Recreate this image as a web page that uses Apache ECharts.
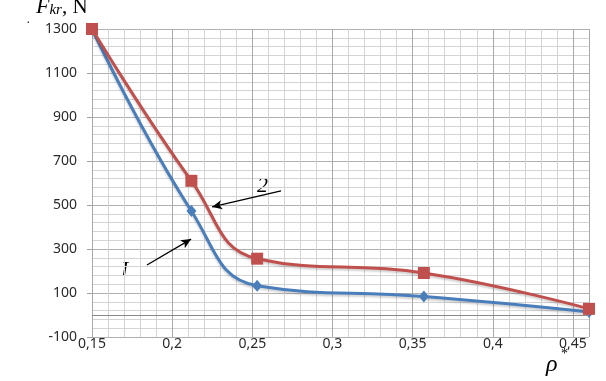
<!DOCTYPE html>
<html>
<head>
<meta charset="utf-8">
<script src="https://cdn.jsdelivr.net/npm/echarts@6/dist/echarts.min.js"></script>
<style>
html,body{margin:0;padding:0;background:#fff;}
#c{width:606px;height:381px;}
</style>
</head>
<body>
<div id="c"></div>
<script>
// Data
const rho = [0.15, 0.212, 0.253, 0.357, 0.46];
const curve1 = [1300, 473, 133, 84, 14];   // line 1 (blue, diamonds)
const curve2 = [1300, 610, 256, 191, 28];  // line 2 (red, squares)
const yTicks = [-100, 100, 300, 500, 700, 900, 1100, 1300];
const xTicks = [0.15, 0.2, 0.25, 0.3, 0.35, 0.4, 0.45];
// annotation arrows in data coordinates [x, y]
const arrow1 = [[0.1843, 227], [0.2118, 345]];
const arrow2 = [[0.2679, 564], [0.2249, 491]];

const pts1 = rho.map((x, i) => [x, curve1[i]]);
const pts2 = rho.map((x, i) => [x, curve2[i]]);

const chart = echarts.init(document.getElementById('c'), null, {renderer: 'canvas'});
const labelFont = '"Noto Sans", sans-serif';

const option = {
  animation: false,
  backgroundColor: '#ffffff',
  grid: {left: 92, right: 17, top: 29, bottom: 44, containLabel: false},
  xAxis: [
    {
      type: 'value', min: 0.15, max: 0.46, interval: 0.05, z: 1,
      axisLine: {show: false}, axisTick: {show: false},
      splitLine: {show: true, lineStyle: {color: '#a9a9a9', width: 1}},
      axisLabel: {
        margin: 0, color: '#2a2a2a', fontSize: 14, fontFamily: labelFont,
        formatter: function (v) {
          const r = Math.round(v * 100) / 100;
          if (!xTicks.some(t => Math.abs(t - r) < 1e-6)) return '';
          return String(r).replace('.', ',');
        }
      }
    },
    {
      type: 'value', min: 0.15, max: 0.46, interval: 0.01, z: 0, position: 'bottom',
      axisLine: {show: false}, axisTick: {show: false}, axisLabel: {show: false},
      splitLine: {show: true, lineStyle: {color: '#d3d3d3', width: 1}}
    }
  ],
  yAxis: {
    type: 'value', min: yTicks[0], max: yTicks[yTicks.length - 1], interval: 200,
    axisLine: {show: true, lineStyle: {color: '#a0a0a0'}},
    axisTick: {show: true, length: 5, lineStyle: {color: '#a0a0a0'}},
    minorTick: {show: false, splitNumber: 5},
    splitLine: {show: true, lineStyle: {color: '#b0b0b0'}},
    minorSplitLine: {show: true, lineStyle: {color: '#d3d3d3'}},
    axisLabel: {
      margin: 15, color: '#2a2a2a', fontSize: 14, fontFamily: labelFont,
      formatter: function (v) { return String(Math.round(v)); }
    }
  },
  series: [
    {
      name: '1', type: 'line', xAxisIndex: 0, data: pts1, smooth: 0.45,
      symbol: 'diamond', symbolSize: [10, 12],
      lineStyle: {color: '#4a7ebb', width: 3, shadowColor: 'rgba(0,0,0,0.18)', shadowOffsetY: 2, shadowBlur: 2},
      itemStyle: {color: '#4a7ebb'},
      markLine: {
        silent: true, symbol: 'none', label: {show: false},
        lineStyle: {color: '#8a8a8a', width: 1, type: 'solid'},
        data: [{yAxis: 0}]
      }
    },
    {
      name: '2', type: 'line', xAxisIndex: 0, data: pts2, smooth: 0.45,
      symbol: 'rect', symbolSize: 12,
      lineStyle: {color: '#c0504d', width: 3, shadowColor: 'rgba(0,0,0,0.18)', shadowOffsetY: 2, shadowBlur: 2},
      itemStyle: {color: '#c0504d'},
      markLine: {
        silent: true, symbol: ['none', 'arrow'], symbolSize: [7, 10], label: {show: false},
        lineStyle: {color: '#000000', width: 1.3, type: 'solid'},
        data: [
          [{coord: arrow1[0]}, {coord: arrow1[1]}],
          [{coord: arrow2[0]}, {coord: arrow2[1]}]
        ]
      }
    }
  ],
  graphic: [
    {
      type: 'text', left: 36, top: -4,
      style: {
        rich: {
          F: {fontFamily: '"Liberation Serif", serif', fontStyle: 'italic', fontSize: 22, fill: '#000'},
          s: {fontFamily: '"Liberation Serif", serif', fontStyle: 'italic', fontSize: 15, fill: '#000', padding: [6, 0, 0, 0]},
          n: {fontFamily: '"Liberation Serif", serif', fontSize: 21, fill: '#000'}
        },
        text: '{F|F}{s|kr}{n|, N}'
      }
    },
    {type: 'text', left: 26, top: 15, style: {text: '·', fontSize: 14, fill: '#333'}},
    {type: 'text', left: 121, top: 259, style: {text: 'I', fontFamily: '"Liberation Serif", serif', fontStyle: 'italic', fontSize: 22, fill: '#000'}},
    {type: 'text', left: 257, top: 175, style: {text: '2', fontFamily: '"Liberation Serif", serif', fontStyle: 'italic', fontSize: 22, fill: '#000'}},
    {type: 'text', left: 546, top: 353, style: {text: 'ρ', fontFamily: '"Liberation Serif", serif', fontStyle: 'italic', fontSize: 24, fill: '#000'}},
    {type: 'text', left: 561, top: 347, style: {text: '*', fontFamily: '"Liberation Serif", serif', fontSize: 14, fill: '#000'}}
  ]
};
chart.setOption(option);
</script>
</body>
</html>
